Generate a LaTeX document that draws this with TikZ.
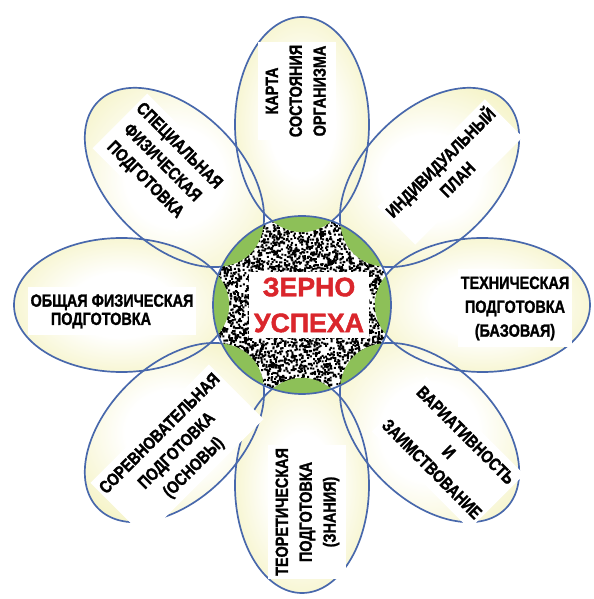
\documentclass[tikz,border=0pt]{standalone}
\usepackage{graphicx}
\usepackage{fontspec}
\setmainfont{Liberation Sans}
\newfontfamily\heavyfont{Liberation Sans}[FakeBold=1.6]
\usetikzlibrary{calc}
\definecolor{petalout}{RGB}{240,237,168}
\definecolor{petalline}{RGB}{72,104,172}
\definecolor{ringgreen}{RGB}{141,192,88}
\definecolor{seedred}{RGB}{218,38,44}
\pgfdeclareradialshading{petalshade}{\pgfpoint{0cm}{0cm}}{color(0bp)=(white); color(12bp)=(white); color(38bp)=(petalout); color(50bp)=(petalout)}
\newcommand{\petallabel}[2][c]{\scalebox{0.82}[1]{\begin{tabular}{@{}#1@{}}#2\end{tabular}}}
\tikzset{
    petal/.style={shading=petalshade},
    petaledge/.style={draw=petalline, line width=1.2pt},
    petaltext/.style={font=\heavyfont\bfseries\fontsize{12.5}{17}\selectfont,
        fill=white, inner sep=2pt},
    seedtext/.style={font=\heavyfont\bfseries\fontsize{19}{25.5}\selectfont,
        text=seedred, align=center, fill=white,
        minimum width=3cm, minimum height=1.65cm}
}
\begin{document}
\begin{tikzpicture}
    \fill[white] (0, 0) rectangle (14.825, 14.975);
    \useasboundingbox (0, 0) rectangle (14.825, 14.975);
    \coordinate (c) at (7.55, 7.35);
    % petals
    \foreach \a in {0, 45, ..., 315}{
        \shade[petal, shift={(c)}, rotate=\a] (4.51, 0) ellipse (2.69 and 1.675);
    }
    \foreach \a in {0, 45, ..., 315}{
        \draw[petaledge, shift={(c)}, rotate=\a] (4.51, 0) ellipse (2.69 and 1.675);
    }
    % seed
    \begin{scope}
        \clip (c) circle (2.225);
        \fill[white] (c) circle (2.225);
        \pgfmathsetseed{42}
        \fill[black, shift={(c)}] foreach \i in {1, ..., 5200}{
            ({2.3*rand}, {2.3*rand}) rectangle ++(0.05, 0.05)
        };
        \foreach \a in {0, 45, ..., 315}{
            \fill[ringgreen, shift={(c)}, rotate=\a] (4.51, 0) ellipse (2.69 and 1.675);
        }
    \end{scope}
    \draw[petaledge] (c) circle (2.225);
    % labels
    \node[seedtext] (seed) at (7.725, 7.35) {ЗЕРНО\\УСПЕХА};
    \node[petaltext, rotate=90] (card) at (7.425, 12.7)
        {\petallabel{КАРТА\\СОСТОЯНИЯ\\ОРГАНИЗМА}};
    \node[petaltext, rotate=45] (plan) at (11.25, 10.675)
        {\petallabel{ИНДИВИДУАЛЬНЫЙ\\ПЛАН}};
    \node[petaltext] (tech) at (12.875, 7.275)
        {\petallabel{ТЕХНИЧЕСКАЯ\\ПОДГОТОВКА\\(БАЗОВАЯ)}};
    \node[petaltext, rotate=-45] (vary) at (11.2, 3.65)
        {\petallabel{ВАРИАТИВНОСТЬ\\И\\ЗАИМСТВОВАНИЕ}};
    \node[petaltext, rotate=90] (theory) at (7.675, 2.175)
        {\petallabel{ТЕОРЕТИЧЕСКАЯ\\ПОДГОТОВКА\\(ЗНАНИЯ)}};
    \node[petaltext, rotate=45] (contest) at (4.425, 3.7)
        {\petallabel{СОРЕВНОВАТЕЛЬНАЯ\\ПОДГОТОВКА\\(ОСНОВЫ)}};
    \node[petaltext] (general) at (2.8, 7.2)
        {\petallabel[l]{ОБЩАЯ ФИЗИЧЕСКАЯ\\[-4pt]\hspace*{0.62cm}ПОДГОТОВКА}};
    \node[petaltext, rotate=-45] (special) at (4.05, 10.9)
        {\petallabel{СПЕЦИАЛЬНАЯ\\ФИЗИЧЕСКАЯ\\ПОДГОТОВКА}};
\end{tikzpicture}
\end{document}
